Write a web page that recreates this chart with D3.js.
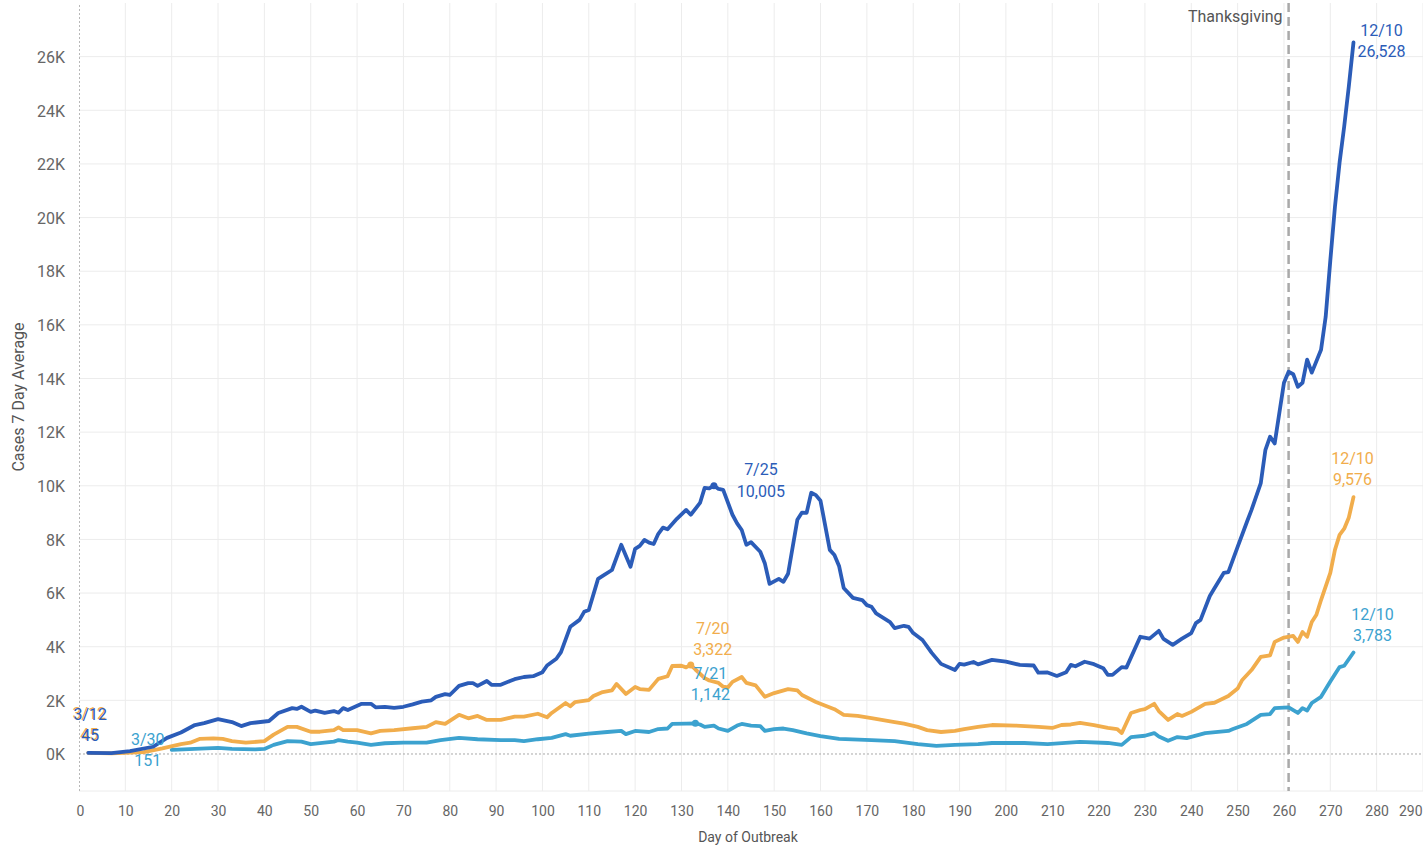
<!DOCTYPE html>
<html>
<head>
<meta charset="utf-8">
<script src="https://cdn.jsdelivr.net/npm/d3@7/dist/d3.min.js"></script>
<style>
  html, body { margin: 0; padding: 0; background: #fff; }
  svg { display: block; font-family: Roboto, "Noto Sans", sans-serif; }
</style>
</head>
<body>
<svg id="chart" width="1423" height="845"></svg>
<script>
// Daily 7-day average of new cases, by day of outbreak
const blueDays = [2,7,11,16,19,22,25,27,30,33,35,37,41,43,46,47,48,50,51,53,55,56,57,58,61,63,64,66,68,70,72,74,76,77,79,80,82,84,85,86,88,89,91,93,94,96,98,100,101,103,104,106,108,109,110,112,113,115,117,119,120,121,122,123,124,125,126,127,129,131,132,134,135,136,137,138,139,141,142,143,144,145,147,148,149,151,152,153,155,156,157,158,159,160,162,163,164,165,167,169,170,171,172,175,176,178,179,180,182,184,186,189,190,191,193,194,197,200,203,206,207,209,211,213,214,215,217,219,221,222,223,225,226,229,231,233,234,236,238,240,241,242,244,245,247,248,250,252,253,255,256,257,258,260,261,262,263,264,265,266,268,269,270,271,272,273,274,275];
const blueCases = [45,30,110,270,600,800,1080,1150,1300,1190,1040,1150,1230,1530,1710,1680,1760,1570,1620,1530,1600,1540,1710,1640,1870,1870,1740,1760,1720,1760,1850,1950,2000,2130,2230,2200,2540,2640,2640,2540,2720,2580,2580,2720,2790,2870,2900,3050,3300,3550,3800,4740,5000,5300,5370,6530,6640,6860,7800,6980,7650,7760,7980,7880,7830,8210,8440,8380,8770,9100,8920,9360,9920,9900,10005,9880,9850,8920,8600,8350,7800,7900,7540,7100,6340,6530,6420,6720,8730,9000,8990,9740,9650,9440,7610,7420,7010,6190,5820,5740,5550,5490,5240,4920,4690,4780,4740,4510,4250,3770,3360,3130,3360,3330,3430,3340,3510,3440,3320,3300,3030,3040,2910,3050,3320,3270,3440,3350,3200,2950,2950,3240,3220,4370,4300,4590,4290,4070,4300,4510,4880,5000,5890,6180,6750,6780,7720,8650,9100,10100,11340,11830,11580,13840,14250,14160,13690,13840,14700,14220,15070,16300,18400,20400,22050,23400,24900,26528];

const orangeDays = [2,7,14,18,22,24,26,29,31,33,36,40,41,42,45,47,50,52,55,56,57,60,63,65,68,72,75,77,79,82,84,86,88,91,94,96,99,101,102,105,106,107,110,111,113,115,116,118,120,121,123,125,127,128,130,131,132,133,135,136,138,139,140,141,143,144,146,148,150,153,155,156,159,163,165,168,171,176,178,181,183,186,189,191,194,197,202,207,210,212,214,216,219,222,224,225,227,229,230,232,233,235,237,238,240,243,245,248,250,251,253,255,257,258,260,262,263,264,265,266,267,268,270,271,272,273,274,275];
const orangeCases = [45,20,70,210,370,420,560,580,560,480,420,480,600,720,1010,1010,830,830,890,990,890,890,770,860,890,960,1010,1190,1120,1460,1330,1420,1270,1270,1390,1390,1500,1370,1530,1900,1780,1930,2010,2160,2310,2370,2610,2240,2500,2420,2390,2800,2900,3280,3290,3230,3322,3150,2830,2740,2650,2510,2480,2690,2870,2650,2560,2130,2270,2420,2370,2200,1940,1670,1460,1420,1340,1190,1130,1010,890,820,860,930,1010,1080,1060,1010,970,1080,1100,1160,1080,970,930,780,1530,1640,1670,1870,1600,1270,1490,1420,1570,1870,1910,2160,2440,2760,3130,3620,3680,4180,4340,4400,4180,4550,4370,4920,5190,5740,6750,7610,8170,8400,8820,9576];

const tealDays = [20,25,30,33,38,40,42,45,48,50,53,55,56,58,60,63,66,70,75,78,82,86,91,94,96,99,102,105,106,110,114,117,118,120,123,125,127,128,131,133,134,135,137,138,140,142,143,145,147,148,150,152,154,157,160,164,171,176,181,185,189,194,197,204,209,216,222,225,227,230,232,233,235,237,239,243,248,249,252,255,257,258,261,263,264,265,266,268,270,272,273,275];
const tealCases = [151,190,230,190,170,190,340,480,460,370,420,460,520,460,420,340,400,420,420,520,600,550,520,520,480,550,600,740,680,760,820,860,740,860,820,930,950,1120,1135,1142,1100,1010,1060,950,860,1060,1120,1060,1040,860,930,950,890,770,670,560,520,480,370,300,340,370,410,410,370,450,410,340,630,680,780,650,490,630,590,780,860,930,1120,1460,1490,1710,1740,1530,1710,1620,1900,2130,2700,3240,3290,3783];

// Axis ticks
const xTicks = [0,10,20,30,40,50,60,70,80,90,100,110,120,130,140,150,160,170,180,190,200,210,220,230,240,250,260,270,280,290];
const yTicks = [0,2000,4000,6000,8000,10000,12000,14000,16000,18000,20000,22000,24000,26000];

// Event marker
const eventDay = 261;
const eventLabel = "Thanksgiving";

// Labelled points: series, day, date text, value text
const labelSeries = ["orange","blue","teal","blue","orange","teal","orange","blue","teal"];
const labelDays   = [2,2,20,137,132,133,275,275,275];
const labelDates  = ["3/12","3/12","3/30","7/25","7/20","7/21","12/10","12/10","12/10"];
const labelValues = [45,45,151,10005,3322,1142,9576,26528,3783];

const colors = { blue: "#2b5cb8", orange: "#f1ad4c", teal: "#3ca2cf" };

// label placement relative to the point (pixels)
const labelOffsets = [[1,-34,-13],[2,-33,-12],[-24,-5,16],[47,-11,11],[22,-31,-10],[15,-44,-23],[-1,-33,-12],[28,-6,15],[19,-33,-12]];
const dotted = [false,false,false,true,true,true,false,false,false];

const svg = d3.select("#chart");
const plotLeft = 79, plotRight = 1423, plotTop = 3, plotBottom = 791;

const x = d3.scaleLinear().domain([0, 290]).range([plotLeft, plotRight]);
const y = d3.scaleLinear().domain([-1380, 28000]).range([plotBottom, plotTop]);

// grid
const grid = svg.append("g");
grid.selectAll("line.v").data(xTicks.filter(d => d > 0)).join("line")
  .attr("x1", d => x(d)).attr("x2", d => x(d))
  .attr("y1", plotTop).attr("y2", plotBottom)
  .attr("stroke", "#ececec").attr("stroke-width", 1);
grid.selectAll("line.h").data(yTicks.filter(d => d > 0)).join("line")
  .attr("x1", plotLeft).attr("x2", plotRight)
  .attr("y1", d => y(d)).attr("y2", d => y(d))
  .attr("stroke", "#ececec").attr("stroke-width", 1);
grid.append("line").attr("x1", plotLeft).attr("x2", plotRight).attr("y1", plotBottom).attr("y2", plotBottom)
  .attr("stroke", "#ececec");
// zero line and left axis line (dotted)
grid.append("line").attr("x1", plotLeft).attr("x2", plotRight).attr("y1", y(0)).attr("y2", y(0))
  .attr("stroke", "#a8a8a8").attr("stroke-width", 1).attr("stroke-dasharray", "2,2");
grid.append("line").attr("x1", plotLeft + 0.5).attr("x2", plotLeft + 0.5).attr("y1", plotTop + 2).attr("y2", plotBottom)
  .attr("stroke", "#b8b8b8").attr("stroke-width", 1).attr("stroke-dasharray", "2,2");

// axes
const xAxis = d3.axisBottom(x).tickValues(xTicks).tickSize(0).tickPadding(0);
const gx = svg.append("g").attr("transform", `translate(0,${plotBottom})`).call(xAxis);
gx.select(".domain").remove();
gx.selectAll("text").attr("dy", "0").attr("y", 25)
  .attr("font-size", 14).attr("fill", "#666").attr("font-family", "Roboto, sans-serif");
gx.selectAll(".tick").filter(d => d === 290).select("text").attr("text-anchor", "end").attr("x", -1);
gx.selectAll(".tick").filter(d => d === 0).select("text").attr("x", 1);

const yAxis = d3.axisLeft(y).tickValues(yTicks).tickSize(0).tickPadding(0)
  .tickFormat(d => (d / 1000) + "K");
const gy = svg.append("g").attr("transform", `translate(${plotLeft - 14},0)`).call(yAxis);
gy.select(".domain").remove();
gy.selectAll("text").attr("dy", "0.36em")
  .attr("font-size", 16).attr("fill", "#666").attr("font-family", "Roboto, sans-serif");

svg.append("text").attr("x", 748).attr("y", 842).attr("text-anchor", "middle")
  .attr("font-size", 14).attr("fill", "#555").text("Day of Outbreak");
svg.append("text").attr("transform", "translate(24,397) rotate(-90)").attr("text-anchor", "middle")
  .attr("font-size", 16).attr("fill", "#555").text("Cases 7 Day Average");

// event line
svg.append("line").attr("x1", x(eventDay)).attr("x2", x(eventDay))
  .attr("y1", plotTop).attr("y2", plotBottom)
  .attr("stroke", "#a9a9a9").attr("stroke-width", 2.5).attr("stroke-dasharray", "9,5");
svg.append("text").attr("x", x(eventDay) - 6).attr("y", 22).attr("text-anchor", "end")
  .attr("font-size", 16).attr("fill", "#555").text(eventLabel);

// series lines
const series = {
  teal: d3.zip(tealDays, tealCases),
  orange: d3.zip(orangeDays, orangeCases),
  blue: d3.zip(blueDays, blueCases)
};
const line = d3.line().x(d => x(d[0])).y(d => y(d[1]));
["teal", "orange", "blue"].forEach(k => {
  svg.append("path").datum(series[k])
    .attr("d", line).attr("fill", "none")
    .attr("stroke", colors[k]).attr("stroke-width", 3.8)
    .attr("stroke-linejoin", "round").attr("stroke-linecap", "round");
});

// labels
const fmt = d3.format(",");
labelSeries.forEach((s, i) => {
  const px = x(labelDays[i]), py = y(labelValues[i]);
  const [dx, dy1, dy2] = labelOffsets[i];
  if (dotted[i]) {
    svg.append("circle").attr("cx", px).attr("cy", py).attr("r", 3.5).attr("fill", colors[s]);
  }
  const g = svg.append("g").attr("fill", colors[s]).attr("font-size", 16).attr("text-anchor", "middle");
  g.append("text").attr("x", px + dx).attr("y", py + dy1).text(labelDates[i]);
  g.append("text").attr("x", px + dx).attr("y", py + dy2).text(fmt(labelValues[i]));
});
</script>
</body>
</html>
